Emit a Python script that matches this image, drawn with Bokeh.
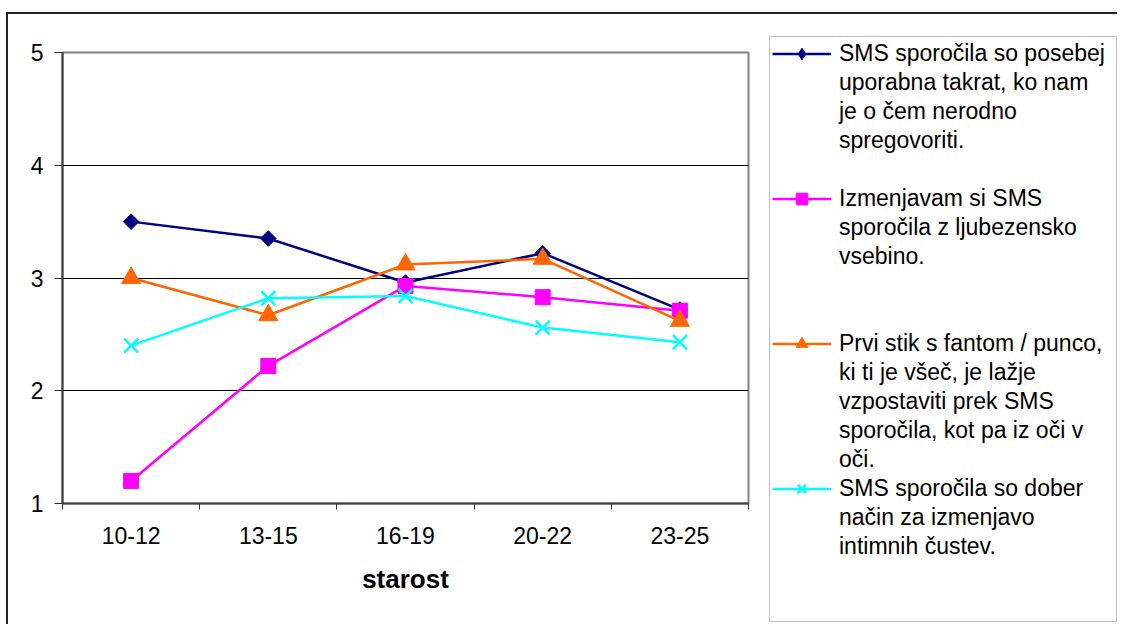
from bokeh.plotting import figure
from bokeh.models import Range1d, FixedTicker, Legend, LegendItem
from bokeh.layouts import row
from bokeh.embed import file_html
from bokeh.resources import INLINE

categories = ["10-12", "13-15", "16-19", "20-22", "23-25"]
s1_vals = [3.50, 3.35, 2.96, 3.22, 2.72]
s2_vals = [1.20, 2.22, 2.93, 2.83, 2.71]
s3_vals = [3.00, 2.67, 3.12, 3.17, 2.62]
s4_vals = [2.40, 2.82, 2.84, 2.56, 2.43]
y_ticks = [1, 2, 3, 4, 5]
x_title = "starost"

s1_label = ["SMS sporočila so posebej", "uporabna takrat, ko nam", "je o čem nerodno", "spregovoriti."]
s2_label = ["Izmenjavam si SMS", "sporočila z ljubezensko", "vsebino."]
s3_label = ["Prvi stik s fantom / punco,", "ki ti je všeč, je lažje", "vzpostaviti prek SMS",
            "sporočila, kot pa iz oči v", "oči."]
s4_label = ["SMS sporočila so dober", "način za izmenjavo", "intimnih čustev."]

FONT = "Liberation Sans"
NAN = float("nan")
xs = [i + 0.5 for i in range(len(categories))]

# ---------------- main chart ----------------
p = figure(width=750, height=624, output_backend="svg", toolbar_location=None,
           x_range=Range1d(0, len(categories)), y_range=Range1d(1, 5),
           min_border_left=62, min_border_top=52, min_border_right=2, min_border_bottom=121)
p.frame_align = False
p.background_fill_color = "white"
p.border_fill_color = None
p.styles = {
    "background": "linear-gradient(#222,#222) 6px 12px / 2px 100% no-repeat, "
                  "linear-gradient(#222,#222) 6px 12px / 100% 2px no-repeat, white"
}
p.outline_line_color = "#808080"
p.outline_line_width = 2

xa = p.xaxis[0]
xa.ticker = FixedTicker(ticks=xs, minor_ticks=list(range(len(categories) + 1)))
xa.major_label_overrides = {x: c for x, c in zip(xs, categories)}
xa.major_tick_out = 0
xa.major_tick_in = 0
xa.minor_tick_out = 6
xa.minor_tick_in = 0
xa.minor_tick_line_color = "#333333"
xa.axis_line_color = "#404040"
xa.axis_line_width = 2
xa.major_label_text_font = FONT
xa.major_label_text_font_size = "23px"
xa.major_label_text_color = "black"
xa.major_label_standoff = 17
xa.axis_label = x_title
xa.axis_label_text_font = FONT
xa.axis_label_text_font_style = "bold"
xa.axis_label_text_font_size = "26px"
xa.axis_label_text_color = "black"
xa.axis_label_standoff = 17

ya = p.yaxis[0]
ya.ticker = FixedTicker(ticks=y_ticks)
ya.minor_tick_line_color = None
ya.major_tick_out = 8
ya.major_tick_in = 0
ya.major_tick_line_color = "#333333"
ya.axis_line_color = "#404040"
ya.axis_line_width = 2
ya.major_label_text_font = FONT
ya.major_label_text_font_size = "23px"
ya.major_label_text_color = "black"
ya.major_label_standoff = 11

p.xgrid.grid_line_color = None
p.ygrid.ticker = FixedTicker(ticks=y_ticks)
p.ygrid.grid_line_color = "black"
p.ygrid.grid_line_width = 1

# (values, colour, plot marker, size, angle, legend marker, label lines, blank lines after)
series = [
    (s1_vals, "#000080", "square", 11, 0.785398, "diamond", s1_label, 1),
    (s2_vals, "#FF00FF", "square", 15, 0.0, "square", s2_label, 2),
    (s3_vals, "#FF6600", "triangle", 19, 0.0, "triangle", s3_label, 0),
    (s4_vals, "#00FFFF", "x", 20, 0.0, "x", s4_label, 2),
]

for vals, col, mk, sz, ang, lmk, lines, nblank in series:
    p.line(xs, vals, line_color=col, line_width=2.5)
    p.scatter(xs, vals, marker=mk, size=sz, angle=ang,
              fill_color=col, line_color=col, line_width=2.5 if mk == "x" else 1)

# ---------------- legend panel ----------------
q = figure(width=367, height=624, output_backend="svg", toolbar_location=None,
           x_range=Range1d(0, 1), y_range=Range1d(0, 1),
           x_axis_location=None, y_axis_location=None,
           min_border_left=0, min_border_right=0, min_border_top=0, min_border_bottom=0)
q.frame_align = False
q.grid.visible = False
q.outline_line_color = None
q.background_fill_color = None
q.border_fill_color = None
q.styles = {"background": "linear-gradient(#222,#222) 0px 12px / 100% 2px no-repeat, white"}

blank_r = q.line([], [], line_alpha=0)
items = []
for vals, col, mk, sz, ang, lmk, lines, nblank in series:
    lr = q.line([NAN], [NAN], line_color=col, line_width=2.5)
    mr = q.scatter([NAN], [NAN], marker=lmk, fill_color=col, line_color=col,
                   line_width=2.5 if lmk == "x" else 1)
    items.append(LegendItem(label=lines[0], renderers=[lr, mr]))
    for ln in lines[1:]:
        items.append(LegendItem(label=ln, renderers=[blank_r]))
    for _ in range(nblank):
        items.append(LegendItem(label=" ", renderers=[blank_r]))

legend = Legend(items=items, location=(19, 2), orientation="vertical",
                border_line_color="#808080", border_line_width=1.5,
                background_fill_color="white", background_fill_alpha=1,
                padding=2, margin=0, spacing=0,
                glyph_width=59, glyph_height=29, label_height=29, label_width=275,
                label_standoff=8,
                label_text_font=FONT, label_text_font_size="23px",
                label_text_color="black")
q.add_layout(legend, "center")

layout = row(p, q, spacing=0)
open("out.html", "w").write(file_html(layout, INLINE))
